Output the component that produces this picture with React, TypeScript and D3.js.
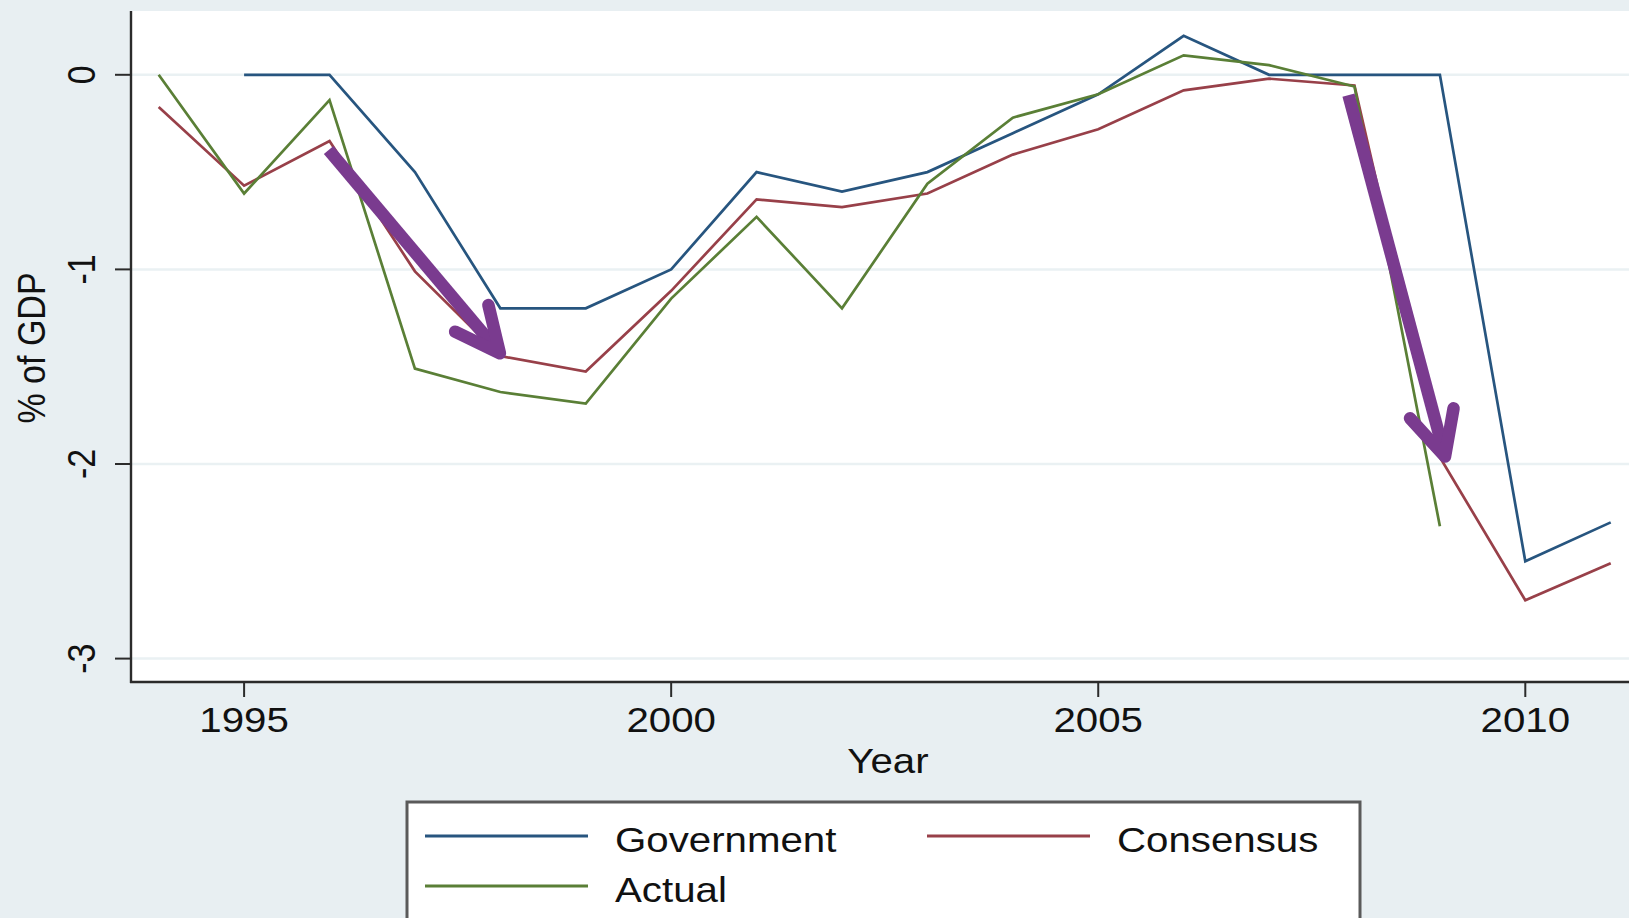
import React from "react";
import * as d3 from "d3";

const govYears = [1995, 1996, 1997, 1998, 1999, 2000, 2001, 2002, 2003, 2004, 2005, 2006, 2007, 2008, 2009, 2010, 2011];
const govValues = [0, 0, -0.5, -1.2, -1.2, -1.0, -0.5, -0.6, -0.5, -0.3, -0.1, 0.2, 0, 0, 0, -2.5, -2.3];

const conYears = [1994, 1995, 1996, 1997, 1998, 1999, 2000, 2001, 2002, 2003, 2004, 2005, 2006, 2007, 2008, 2009, 2010, 2011];
const conValues = [-0.165, -0.57, -0.34, -1.01, -1.445, -1.525, -1.11, -0.64, -0.68, -0.61, -0.41, -0.28, -0.08, -0.02, -0.055, -1.965, -2.7, -2.51];

const actYears = [1994, 1995, 1996, 1997, 1998, 1999, 2000, 2001, 2002, 2003, 2004, 2005, 2006, 2007, 2008, 2009];
const actValues = [0, -0.61, -0.13, -1.51, -1.63, -1.69, -1.15, -0.73, -1.2, -0.56, -0.22, -0.1, 0.1, 0.05, -0.06, -2.32];

const xTicks = [1995, 2000, 2005, 2010];
const yTicks = [0, -1, -2, -3];

const seriesNames = ["Government", "Consensus", "Actual"];
const seriesColors = ["#27557f", "#984049", "#5a7f36"];

// annotation arrows, in data units: [start, tip, leftWing, rightWing] as [year, value]
const arrow1 = [[1995.99, -0.386], [1997.995, -1.431], [1997.47, -1.32], [1997.86, -1.183]];
const arrow2 = [[2007.93, -0.104], [2009.06, -1.962], [2008.65, -1.765], [2009.16, -1.714]];

const W = 1629;
const H = 918;
const SX = 1.15;
const FONT = "'Liberation Sans', Arial, Helvetica, sans-serif";

export default function App() {
  const plotLeft = 131;
  const plotRight = 1645;
  const plotTop = 11;
  const plotBottom = 682;

  const x = d3.scaleLinear().domain([1995, 2010]).range([244.1, 1525.3]);
  const y = d3.scaleLinear().domain([0, -3]).range([74.8, 658.6]);

  const line = d3
    .line<[number, number]>()
    .x((d) => x(d[0]))
    .y((d) => y(d[1]));

  const series = [
    govYears.map((yr, i) => [yr, govValues[i]] as [number, number]),
    conYears.map((yr, i) => [yr, conValues[i]] as [number, number]),
    actYears.map((yr, i) => [yr, actValues[i]] as [number, number]),
  ];

  const arrowColor = "#7a3b8f";
  const renderArrow = (a: number[][], key: string) => {
    const [s, t, l, r] = a.map((p) => [x(p[0]), y(p[1])]);
    return (
      <g key={key}>
        <line x1={s[0]} y1={s[1]} x2={t[0]} y2={t[1]} stroke={arrowColor} strokeWidth={12.5} strokeLinecap="butt" />
        <path
          d={`M${l[0]},${l[1]}L${t[0]},${t[1]}L${r[0]},${r[1]}`}
          fill="none"
          stroke={arrowColor}
          strokeWidth={12.5}
          strokeLinecap="round"
          strokeLinejoin="round"
        />
      </g>
    );
  };

  const legendItems = [
    { name: seriesNames[0], color: seriesColors[0], lx: 425, ly: 836 },
    { name: seriesNames[1], color: seriesColors[1], lx: 927, ly: 836 },
    { name: seriesNames[2], color: seriesColors[2], lx: 425, ly: 886 },
  ];

  return (
    <svg
      width={W}
      height={H}
      style={{ position: "absolute", left: 0, top: 0, display: "block" }}
      fontFamily={FONT}
    >
      <rect x={0} y={0} width={W} height={H} fill="#e8eff2" />
      <rect x={plotLeft} y={plotTop} width={plotRight - plotLeft} height={plotBottom - plotTop} fill="#ffffff" />

      {/* gridlines */}
      {yTicks.map((t) => (
        <line key={"g" + t} x1={plotLeft} x2={plotRight} y1={y(t)} y2={y(t)} stroke="#eaf1f3" strokeWidth={2.5} />
      ))}

      {/* series */}
      {series.map((s, i) => (
        <path key={"s" + i} d={line(s) || ""} fill="none" stroke={seriesColors[i]} strokeWidth={2.7} strokeLinejoin="miter" />
      ))}

      {/* arrows */}
      {renderArrow(arrow1, "a1")}
      {renderArrow(arrow2, "a2")}

      {/* axes */}
      <line x1={plotLeft} x2={plotLeft} y1={plotTop} y2={plotBottom + 1} stroke="#2b2b2b" strokeWidth={2.4} />
      <line x1={plotLeft - 1} x2={plotRight} y1={plotBottom} y2={plotBottom} stroke="#2b2b2b" strokeWidth={2.4} />

      {yTicks.map((t) => (
        <g key={"yt" + t}>
          <line x1={plotLeft - 16} x2={plotLeft} y1={y(t)} y2={y(t)} stroke="#2b2b2b" strokeWidth={2} />
          <text
            transform={`translate(95,${y(t)}) scale(${SX},1) rotate(-90)`}
            textAnchor="middle"
            fontSize={34}
            fill="#111"
          >
            {String(t)}
          </text>
        </g>
      ))}

      {xTicks.map((t) => (
        <g key={"xt" + t}>
          <line x1={x(t)} x2={x(t)} y1={plotBottom} y2={plotBottom + 15} stroke="#2b2b2b" strokeWidth={2} />
          <text transform={`translate(${x(t)},732) scale(${SX},1)`} textAnchor="middle" fontSize={35} fill="#111">
            {String(t)}
          </text>
        </g>
      ))}

      <text transform={`translate(888,773) scale(${SX},1)`} textAnchor="middle" fontSize={35} fill="#111">
        Year
      </text>
      <text
        transform={`translate(45,348) scale(${SX},1) rotate(-90)`}
        textAnchor="middle"
        fontSize={34}
        fill="#111"
      >
        % of GDP
      </text>

      {/* legend */}
      <rect x={407} y={802} width={953} height={140} fill="#ffffff" stroke="#5a5a5a" strokeWidth={3} />
      {legendItems.map((it) => (
        <g key={it.name}>
          <line x1={it.lx} x2={it.lx + 163} y1={it.ly} y2={it.ly} stroke={it.color} strokeWidth={3} />
          <text
            transform={`translate(${it.lx + 190},${it.ly + 15.5}) scale(${SX},1)`}
            fontSize={35}
            fill="#111"
          >
            {it.name}
          </text>
        </g>
      ))}
    </svg>
  );
}
